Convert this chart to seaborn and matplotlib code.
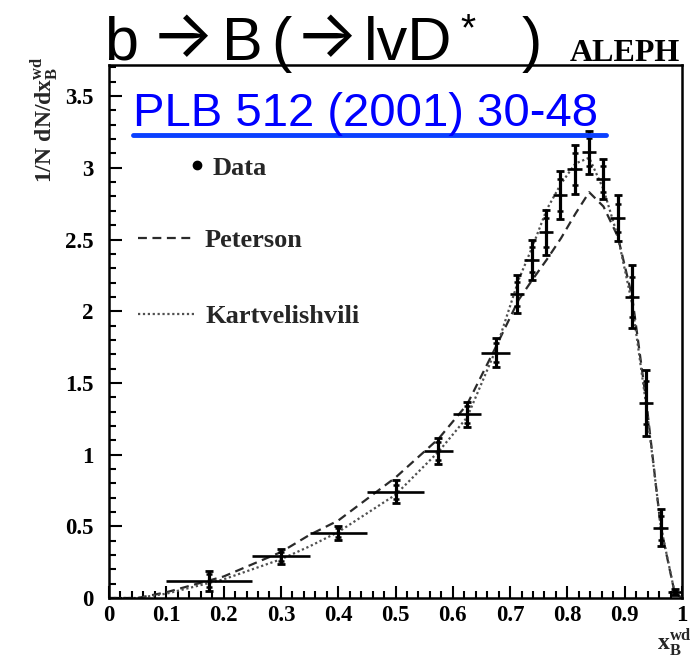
import numpy as np
import pandas as pd
import matplotlib
matplotlib.use("Agg")
import matplotlib.pyplot as plt
from matplotlib.lines import Line2D
from matplotlib.ticker import MultipleLocator
import seaborn as sns

# ---------------- data ----------------
x_data = [0.175, 0.30, 0.40, 0.50, 0.575, 0.625, 0.675, 0.7125, 0.7375, 0.7625,
          0.7875, 0.8125, 0.8375, 0.8625, 0.8875, 0.9125, 0.9375, 0.9625, 0.9875]
x_halfbin = [0.075, 0.05, 0.05, 0.05, 0.025, 0.025, 0.025, 0.0125, 0.0125, 0.0125,
             0.0125, 0.0125, 0.0125, 0.0125, 0.0125, 0.0125, 0.0125, 0.0125, 0.0125]
y_data = [0.12, 0.29, 0.455, 0.74, 1.025, 1.28, 1.71, 2.12, 2.36, 2.55,
          2.81, 2.99, 3.11, 2.92, 2.65, 2.10, 1.36, 0.49, 0.04]
y_err_tot = [0.07, 0.05, 0.05, 0.08, 0.09, 0.09, 0.10, 0.13, 0.14, 0.155,
             0.17, 0.17, 0.15, 0.14, 0.16, 0.22, 0.23, 0.13, 0.02]
y_err_stat = [0.045, 0.03, 0.03, 0.05, 0.06, 0.06, 0.065, 0.085, 0.09, 0.10,
              0.11, 0.11, 0.10, 0.09, 0.10, 0.14, 0.15, 0.085, 0.012]

curve_x = [0.0, 0.05, 0.1, 0.2, 0.3, 0.35, 0.4, 0.5, 0.575, 0.625, 0.675, 0.715,
           0.739, 0.764, 0.789, 0.814, 0.838, 0.863, 0.888, 0.913, 0.938, 0.963,
           0.987, 1.0]
peterson_y = [0.0, 0.0, 0.04, 0.15, 0.32, 0.44, 0.54, 0.84, 1.11, 1.35, 1.75, 2.08,
              2.22, 2.36, 2.51, 2.68, 2.83, 2.73, 2.52, 2.10, 1.36, 0.49, 0.04, 0.0]
kart_y = [0.0, 0.0, 0.03, 0.13, 0.27, 0.36, 0.46, 0.72, 1.02, 1.26, 1.73, 2.22,
          2.45, 2.71, 2.89, 3.03, 3.07, 2.85, 2.52, 2.05, 1.33, 0.50, 0.04, 0.0]

x_ticks = [0, 0.1, 0.2, 0.3, 0.4, 0.5, 0.6, 0.7, 0.8, 0.9, 1]
x_ticklabels = ["0", "0.1", "0.2", "0.3", "0.4", "0.5", "0.6", "0.7", "0.8", "0.9", "1"]
y_ticks = [0, 0.5, 1, 1.5, 2, 2.5, 3, 3.5]
y_ticklabels = ["0", "0.5", "1", "1.5", "2", "2.5", "3", "3.5"]

# ---------------- style ----------------
sns.set_style("ticks")
plt.rcParams["font.family"] = ["Liberation Serif", "DejaVu Serif"]
plt.rcParams["mathtext.fontset"] = "custom"
plt.rcParams["mathtext.rm"] = "Liberation Sans"
plt.rcParams["mathtext.it"] = "Liberation Sans:italic"
plt.rcParams["mathtext.bf"] = "Liberation Serif:bold"

W, H = 694, 658
fig = plt.figure(figsize=(W / 100, H / 100), dpi=100)
ax = fig.add_axes([109 / W, 60 / H, 573 / W, 533 / H])

curves = pd.DataFrame({"x": curve_x + curve_x,
                       "y": peterson_y + kart_y,
                       "model": ["Peterson"] * len(curve_x) + ["Kartvelishvili"] * len(curve_x)})

dash_style = (0, (4, 2.5))
dot_style = (0, (1, 1.2))
sns.lineplot(data=curves[curves.model == "Peterson"], x="x", y="y", ax=ax,
             color="#2a2a2a", lw=1.6, linestyle=dash_style, legend=False)
sns.lineplot(data=curves[curves.model == "Kartvelishvili"], x="x", y="y", ax=ax,
             color="#505050", lw=1.6, linestyle=dot_style, legend=False)

# data points: horizontal bin widths, total and stat error bars
ax.errorbar(x_data, y_data, xerr=x_halfbin, fmt="none", ecolor="black",
            elinewidth=1.9, capsize=0, zorder=5)
ax.errorbar(x_data, y_data, yerr=y_err_tot, fmt="none", ecolor="black",
            elinewidth=2.3, capsize=3, capthick=2.0, zorder=5)
ax.errorbar(x_data, y_data, yerr=y_err_stat, fmt="none", ecolor="black",
            elinewidth=0, capsize=2.5, capthick=1.8, zorder=5)
sns.scatterplot(x=x_data, y=y_data, ax=ax, color="black", s=8, linewidth=0, zorder=6)

ax.set_xlim(0, 1)
ax.set_ylim(0, 3.717)
ax.set_xticks(x_ticks)
ax.set_xticklabels(x_ticklabels)
ax.set_yticks(y_ticks)
ax.set_yticklabels(y_ticklabels)
ax.xaxis.set_minor_locator(MultipleLocator(0.02))
ax.yaxis.set_minor_locator(MultipleLocator(0.1))
ax.tick_params(which="both", direction="in", width=1.5, colors="black",
               top=False, right=False)
ax.tick_params(which="major", length=9)
ax.tick_params(which="minor", length=5)
ax.tick_params(axis="x", which="major", pad=5)
ax.tick_params(axis="y", which="major", pad=11)
for lab in ax.get_xticklabels() + ax.get_yticklabels():
    lab.set_fontweight("bold")
    lab.set_fontsize(16.5)
    lab.set_family("Liberation Serif")
for sp in ax.spines.values():
    sp.set_visible(True)
    sp.set_linewidth(1.8)
    sp.set_color("black")
ax.set_xlabel("")
ax.set_ylabel("")

# legend (Data entry separate so its dot sits next to the label)
leg_prop = {"family": "Liberation Serif", "weight": "bold", "size": 19}
leg1 = ax.legend([Line2D([], [], marker="o", color="black", linestyle="none", markersize=6)],
                 ["Data"], loc="center left", bbox_to_anchor=((189 - 109) / 573, (598 - 168) / 533),
                 frameon=False, borderpad=0, borderaxespad=0, handlelength=0.6,
                 handletextpad=0.3, prop=leg_prop)
ax.add_artist(leg1)
leg2 = ax.legend([Line2D([], [], color="#2a2a2a", lw=1.6, linestyle=dash_style),
                  Line2D([], [], color="#505050", lw=1.6, linestyle=dot_style)],
                 ["Peterson", "Kartvelishvili"], loc="upper left",
                 bbox_to_anchor=((138 - 109) / 573, (598 - 229) / 533),
                 frameon=False, borderpad=0, borderaxespad=0, handlelength=2.16,
                 handletextpad=0.38, labelspacing=1.98, prop=leg_prop)

# axis labels
fig.text(45 / W, 1 - 183 / H, r"$\mathbf{1/N\ dN/dx}_{\mathbf{B}}^{\mathbf{wd}}$",
         rotation=90, ha="center", va="bottom", fontsize=17)
fig.text(674 / W, 1 - 627 / H, r"$\mathbf{x}_{\mathbf{B}}^{\mathbf{wd}}$",
         ha="center", va="top", fontsize=17)

# title built from pieces (stroke arrows)
sans = dict(family=["Liberation Sans", "DejaVu Sans"], color="black")
arrow_kw = dict(family=["Inter", "DejaVu Sans"], color="black", fontsize=48)
base = 1 - 60 / H
fig.text(104 / W, base, "b", ha="left", va="baseline", fontsize=44, **sans)
fig.text(182 / W, 1 - 40 / H, "→", ha="center", va="center", **arrow_kw)
fig.text(222 / W, base, "B", ha="left", va="baseline", fontsize=44, **sans)
fig.text(271 / W, base, "(", ha="left", va="baseline", fontsize=44, **sans)
fig.text(326 / W, 1 - 40 / H, "→", ha="center", va="center", **arrow_kw)
fig.text(364 / W, base, "lvD", ha="left", va="baseline", fontsize=44, **sans)
fig.text(460 / W, 1 - 12 / H, "*", ha="left", va="top", fontsize=28, **sans)
fig.text(522 / W, base, ")", ha="left", va="baseline", fontsize=44, **sans)

fig.text(680 / W, 1 - 61 / H, "ALEPH", ha="right", va="baseline",
         fontsize=23, fontweight="bold", family="Liberation Serif", color="black")
fig.text(133 / W, 1 - 126 / H, "PLB 512 (2001) 30-48", ha="left", va="baseline",
         fontsize=34, family="Liberation Sans", color="#0000ff")
fig.add_artist(Line2D([133 / W, 606 / W], [1 - 135 / H, 1 - 135 / H],
                      transform=fig.transFigure, color="#0a40ff", lw=3.5))

fig.savefig("out.png", dpi=100)
